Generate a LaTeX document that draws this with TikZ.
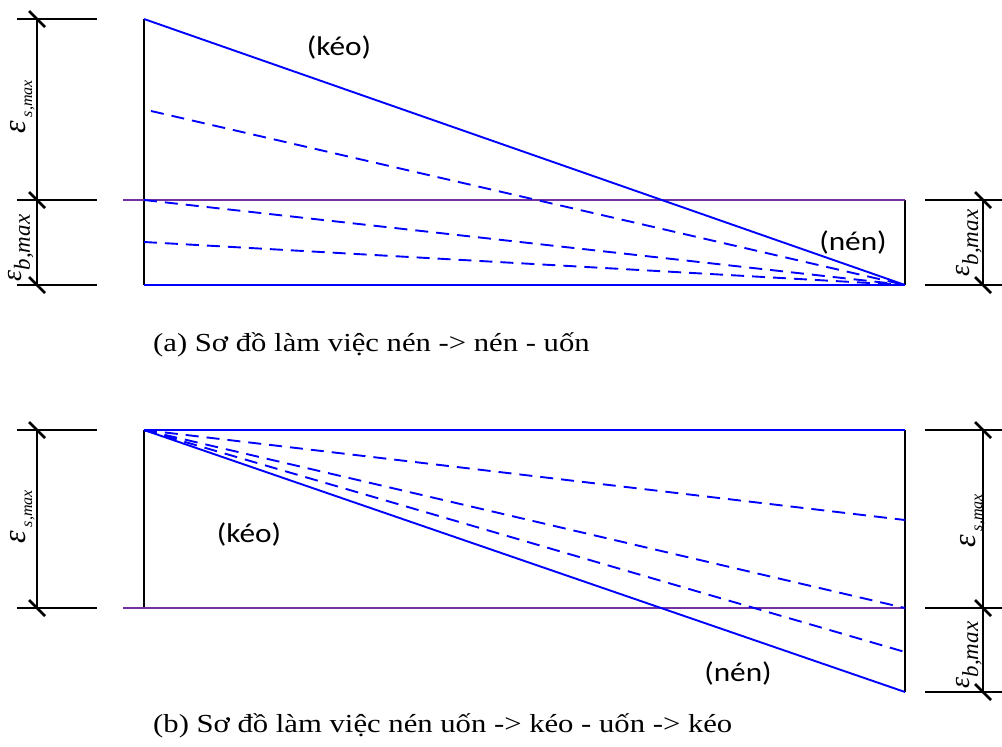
\documentclass[tikz,border=0pt]{standalone}
\usepackage{fontspec}
\setmainfont{Liberation Serif}
\newfontfamily\chucai{Liberation Serif}[FakeStretch=1.18]
\newfontfamily\sansnhan{Carlito}[FakeStretch=1.16]
\usepackage{tikz}
\usetikzlibrary{calc}
\definecolor{tim}{RGB}{112,48,160}
\definecolor{xanhdam}{RGB}{0,0,255}
% dau gach cheo tai giao diem cua duong kich thuoc
\newcommand{\gach}[1]{%
  \draw[line width=2.6pt] ($(#1)+(-8,-8)$) -- ($(#1)+(8,8)$);%
}
\newcommand{\epsS}{{\fontsize{32}{32}\selectfont\itshape ε}\hspace{4pt}\raisebox{-7pt}{\fontsize{16}{16}\selectfont\itshape s,max}}
\newcommand{\epsB}{{\fontsize{28}{28}\selectfont\itshape ε}\raisebox{-9pt}{\fontsize{23}{23}\selectfont\itshape b,max}}

\begin{document}
\begin{tikzpicture}[x=1pt, y=-1pt,
    vien/.style={black, line width=1.9pt},
    xanh/.style={xanhdam, line width=1.9pt},
    netdut/.style={xanhdam, line width=1.9pt, dash pattern=on 13pt off 8pt},
    trunghoa/.style={tim, line width=1.9pt},
    cota/.style={black, line width=1.9pt},
    doc/.style={rotate=90, anchor=base, inner sep=0pt},
    nhan/.style={font=\sansnhan\fontsize{27}{27}\selectfont},
    chuthich/.style={font=\chucai\fontsize{26}{28}\selectfont, anchor=base west, inner sep=0pt}]
  \useasboundingbox (0,0) rectangle (1002,747);

  % ---- (a) nen -> nen - uon
  \coordinate (a1) at (144,19);
  \coordinate (a2) at (144,285);
  \coordinate (a3) at (905,285);
  \coordinate (a4) at (905,200);
  \coordinate (a5) at (123,200);
  \coordinate (a6) at (144,200);
  \coordinate (a7) at (151,111);
  \coordinate (a8) at (144,242);
  \draw[vien] (a1) -- (a2);
  \draw[vien] (a4) -- (a3);
  \draw[trunghoa] (a5) -- (a4);
  \draw[xanh] (a2) -- (a3);
  \draw[xanh] (a1) -- (a3);
  \foreach \p in {a7,a6,a8}
    \draw[netdut] (\p) -- (a3);
  \foreach \y in {19,200,285} {
    \draw[cota] (17,\y) -- (97,\y);
    \gach{37,\y}
  }
  \draw[cota] (37,19) -- (37,285);
  \foreach \y in {200,285} {
    \draw[cota] (925,\y) -- (1002,\y);
    \gach{983,\y}
  }
  \draw[cota] (983,200) -- (983,285);
  \node[doc] (esa) at (25,107) {\epsS};
  \node[doc] (eba) at (21,248) {\epsB};
  \node[doc] (ebar) at (969,243) {\epsB};
  \node[nhan] (keoa) at (339,47) {(kéo)};
  \node[nhan] (nena) at (853,242) {(nén)};
  \node[chuthich] (capa) at (153,351) {(a) Sơ đồ làm việc nén -> nén - uốn};

  % ---- (b) nen uon -> keo - uon -> keo
  \coordinate (b1) at (144,430);
  \coordinate (b2) at (144,608);
  \coordinate (b3) at (905,430);
  \coordinate (b4) at (905,692);
  \coordinate (b5) at (123,608);
  \coordinate (b6) at (905,608);
  \coordinate (b7) at (905,520);
  \coordinate (b8) at (905,652);
  \draw[vien] (b1) -- (b2);
  \draw[vien] (b3) -- (b4);
  \draw[trunghoa] (b5) -- (b6);
  \draw[xanh] (b1) -- (b3);
  \draw[xanh] (b1) -- (b4);
  \foreach \p in {b7,b6,b8}
    \draw[netdut] (b1) -- (\p);
  \foreach \y in {430,608} {
    \draw[cota] (17,\y) -- (97,\y);
    \gach{37,\y}
  }
  \draw[cota] (37,430) -- (37,608);
  \foreach \y in {430,608,692} {
    \draw[cota] (925,\y) -- (1002,\y);
    \gach{983,\y}
  }
  \draw[cota] (983,430) -- (983,692);
  \node[doc] (esb) at (25,517) {\epsS};
  \node[doc] (esbr) at (975,521) {\epsS};
  \node[doc] (ebbr) at (969,655) {\epsB};
  \node[nhan] (keob) at (249,534) {(kéo)};
  \node[nhan] (nenb) at (738,673) {(nén)};
  \node[chuthich] (capb) at (153,732) {(b) Sơ đồ làm việc nén uốn -> kéo - uốn -> kéo};
\end{tikzpicture}
\end{document}
